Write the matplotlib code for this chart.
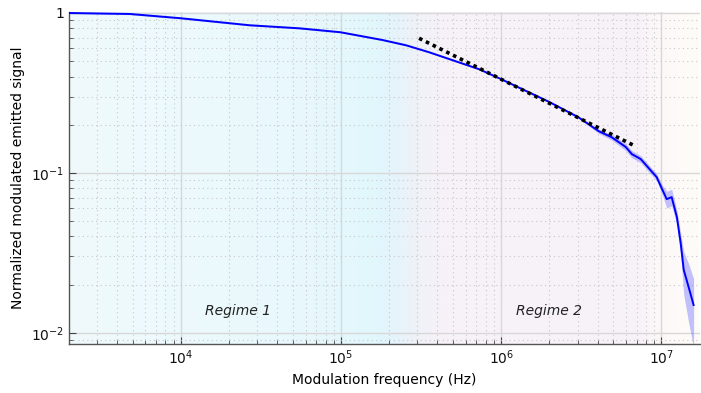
import numpy as np
import matplotlib
matplotlib.use('Agg')
import matplotlib.pyplot as plt
from matplotlib.colors import LinearSegmentedColormap

plt.rcParams['font.family'] = ['DejaVu Sans']
plt.rcParams['mathtext.fontset'] = 'dejavusans'

freq = [2.0e3, 4.8e3, 1.0e4, 2.69e4, 5.5e4, 9.9e4, 1.81e5, 2.55e5, 3.55e5, 7.28e5, 9.7e5,
        1.99e6, 3.05e6, 4.07e6, 4.9e6, 6.0e6, 6.54e6, 7.43e6, 8.34e6, 9.35e6,
        1.0e7, 1.08e7, 1.16e7, 1.25e7, 1.32e7, 1.38e7, 1.48e7, 1.59e7]
signal = [1.0, 0.986, 0.927, 0.838, 0.802, 0.758, 0.678, 0.628, 0.568, 0.445, 0.391,
          0.278, 0.222, 0.182, 0.167, 0.145, 0.131, 0.122, 0.107, 0.094,
          0.081, 0.0685, 0.0705, 0.0529, 0.0364, 0.0247, 0.0193, 0.0149]
spread = [0.01, 0.01, 0.01, 0.01, 0.01, 0.01, 0.01, 0.01, 0.01, 0.01, 0.01,
          0.01, 0.015, 0.03, 0.04, 0.05, 0.05, 0.05, 0.05, 0.05,
          0.06, 0.12, 0.12, 0.10, 0.15, 0.30, 0.40, 0.46]

# f^-1/2 guide line
fit_freq = [3.07e5, 6.9e6]
fit_val = [0.695, 0.1466]

regimes = ['Regime 1', 'Regime 2']
regime_pos = [2.26e4, 1.99e6]
regime_y = 0.0137

lo = [s * (1 - e) for s, e in zip(signal, spread)]
hi = [s * (1 + e) for s, e in zip(signal, spread)]

fig = plt.figure(figsize=(7.01, 3.93), dpi=100)
ax = fig.add_axes([0.0984, 0.1247, 0.9, 0.8447])
ax.set_xscale('log')
ax.set_yscale('log')
ax.set_xlim(2.0e3, 1.74e7)
ax.set_ylim(0.0085, 1.014)

# background colour bands
bg = LinearSegmentedColormap.from_list('bg', [
    (0.0, '#f0fafd'), (0.35, '#e9f8fc'), (0.49, '#e1f7fd'), (0.52, '#e6f3fa'),
    (0.56, '#f2f1f8'), (0.60, '#f7f1f8'), (0.90, '#f8f2f8'), (0.95, '#fdf9f8'),
    (1.0, '#fefcf9')])
grad = np.linspace(0, 1, 512).reshape(1, -1)
ax.imshow(grad, cmap=bg, aspect='auto', extent=[0, 1, 0, 1],
          transform=ax.transAxes, zorder=0)

ax.grid(True, which='major', color='#d8d8d8', lw=1.0, ls='-', zorder=1)
ax.grid(True, which='minor', color='#c8c8c8', lw=0.8, ls=(0, (1, 3)), zorder=1)
ax.set_axisbelow(True)

ax.fill_between(freq, lo, hi, color='#3a3aff', alpha=0.3, lw=0, zorder=3)
ax.plot(freq, signal, color='#0000ff', lw=1.4, zorder=4)
ax.plot(fit_freq, fit_val, color='black', lw=2.6, ls=(0, (1, 1.1)), zorder=5)

for name, xp in zip(regimes, regime_pos):
    ax.text(xp, regime_y, name, style='italic', fontsize=10, color='#222222',
            ha='center', va='center', zorder=6)

ax.set_xlabel('Modulation frequency (Hz)', fontsize=10, labelpad=4)
ax.set_ylabel('Normalized modulated emitted signal', fontsize=10, labelpad=4)

for s in ['top', 'right']:
    ax.spines[s].set_visible(False)
for s in ['left', 'bottom']:
    ax.spines[s].set_color('#555555')
    ax.spines[s].set_linewidth(1.0)

ax.tick_params(which='both', direction='in', colors='#444444', labelcolor='#111111',
               labelsize=10)
ax.tick_params(which='major', length=5)
ax.tick_params(which='minor', length=3)
ax.yaxis.set_major_formatter(matplotlib.ticker.FuncFormatter(
    lambda v, p: '1' if abs(v - 1) < 1e-9 else r'$10^{%d}$' % round(np.log10(v))))

fig.savefig('out.png', dpi=100)
